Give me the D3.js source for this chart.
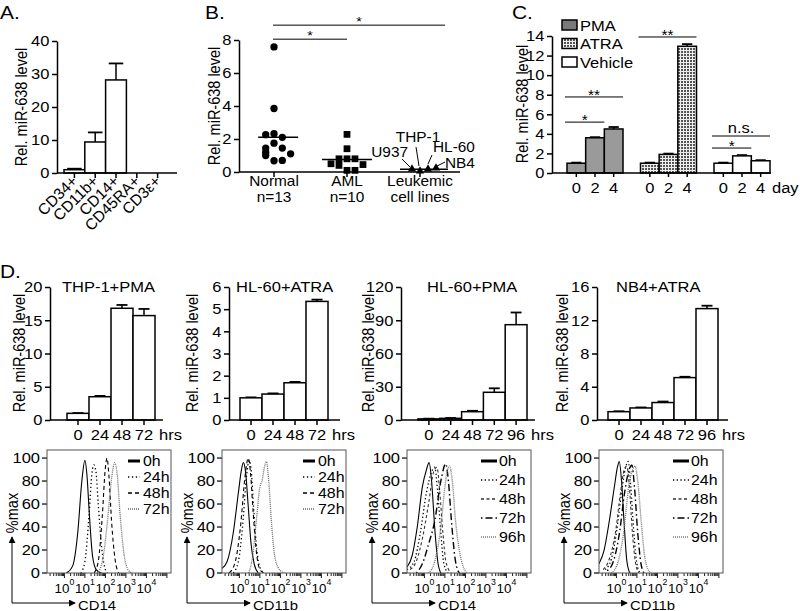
<!DOCTYPE html>
<html><head><meta charset="utf-8">
<script src="https://cdn.jsdelivr.net/npm/d3@7"></script>
<style>body{margin:0;background:#fff} text{font-family:"Liberation Sans",Arial,Helvetica,sans-serif;fill:#000}</style>
</head><body><svg id="fig" width="800" height="611"></svg>
<script>
// ================= DATA =================
// Panel A
const aCategories = ["CD34+","CD11b+","CD14+","CD45RA+","CD3ε+"];
const aValues = [1.0, 9.4, 28.2, 0, 0];
const aErrors = [0.3, 2.9, 5.0, 0, 0];
const aTicks = [0,10,20,30,40];

// Panel B
const bCategories = ["Normal","AML","Leukemic"];
const bLabelLine1 = ["Normal","AML","Leukemic"];
const bLabelLine2 = ["n=13","n=10","cell lines"];
const normalValues = [7.58,3.85,2.26,2.32,2.1,1.75,1.45,1.45,1.2,1.0,1.1,0.68,0.7];
const normalSlots  = [0,0,-1,0,1,0,-1,1,-1,-1,2,0,1];
const amlValues = [2.28,1.41,0.8,0.8,0.8,0.5,0.45,0.4,0.1,0.1];
const amlSlots  = [0,0,-1,0,1,-2,2,-1,0,1];
const cellLineNames  = ["U937","THP-1","HL-60","NB4"];
const cellLineValues = [0.18,0.06,0.18,0.24];
const cellLineSlots  = [-1,0,1,2];
const bTicks = [0,2,4,6,8];
const bSignifFrom = ["Normal","Normal"];
const bSignifTo = ["Leukemic","AML"];
const bSignifLevel = [8.9,8.05];
const bSignifLabel = ["*","*"];

// Panel C
const cGroups = ["PMA","ATRA","Vehicle"];
const cDays = ["0","2","4"];
const pmaValues = [1.0,3.6,4.5];      const pmaErrors = [0.06,0.06,0.2];
const atraValues = [1.0,1.9,12.95];   const atraErrors = [0.06,0.08,0.22];
const vehicleValues = [1.0,1.75,1.25];const vehicleErrors = [0.06,0.08,0.06];
const cTicks = [0,2,4,6,8,10,12,14];
const cSignifGroup = ["PMA","PMA","ATRA","Vehicle","Vehicle"];
const cSignifFrom = [0,0,0,0,0];
const cSignifTo = [2,1,2,2,1];
const cSignifLevel = [7.77,5.2,13.9,3.78,2.55];
const cSignifLabel = ["**","*","**","n.s.","*"];

// Panel D bar charts
const dTitles = ["THP-1+PMA","HL-60+ATRA","HL-60+PMA","NB4+ATRA"];
const hours4 = ["0","24","48","72"];
const hours5 = ["0","24","48","72","96"];
const thp1PmaValues = [1.0,3.5,16.8,15.7];   const thp1PmaErrors = [0.05,0.12,0.5,1.0];   const thp1PmaTicks = [0,5,10,15,20];
const hl60AtraValues = [1.0,1.17,1.68,5.35]; const hl60AtraErrors = [0.02,0.03,0.04,0.08]; const hl60AtraTicks = [0,1,2,3,4,5,6];
const hl60PmaValues = [1.0,1.5,7.5,25,86];   const hl60PmaErrors = [0.2,0.3,0.8,3.6,11];  const hl60PmaTicks = [0,30,60,90,120];
const nb4AtraValues = [1.0,1.45,2.1,5.1,13.4]; const nb4AtraErrors = [0.05,0.06,0.12,0.1,0.35]; const nb4AtraTicks = [0,4,8,12,16];

// Panel D flow histograms (log10 intensity, %max)
const hMarkers = ["CD14","CD11b","CD14","CD11b"];
const hTicksY = [0,20,40,60,80,100];
const hDecades = [0,1,2,3,4];
const legend4 = ["0h","24h","48h","72h"];
const legend5 = ["0h","24h","48h","72h","96h"];
const h1_0h  = [[0.1,0],[0.4,6],[0.65,35],[0.85,80],[1.0,98],[1.1,85],[1.22,50],[1.37,15],[1.55,3],[1.8,0]];
const h1_24h = [[0.8,0],[1.0,10],[1.2,50],[1.35,88],[1.44,94],[1.54,88],[1.65,60],[1.8,25],[1.95,6],[2.1,0]];
const h1_48h = [[1.45,0],[1.65,10],[1.85,50],[1.99,90],[2.08,100],[2.17,85],[2.3,45],[2.47,12],[2.65,0]];
const h1_72h = [[1.6,0],[1.85,10],[2.1,45],[2.32,85],[2.45,96],[2.58,85],[2.72,50],[2.92,15],[3.1,3],[3.3,0]];
const h2_0h  = [[-0.85,4],[-0.6,10],[-0.3,35],[-0.05,70],[0.1,90],[0.19,96],[0.3,88],[0.43,58],[0.57,25],[0.72,8],[0.92,0]];
const h2_24h = [[-0.3,0],[-0.05,10],[0.15,40],[0.35,85],[0.48,98],[0.58,88],[0.7,55],[0.85,20],[1.0,5],[1.2,0]];
const h2_48h = [[-0.5,0],[-0.2,10],[0.05,40],[0.28,85],[0.43,100],[0.55,85],[0.68,50],[0.85,15],[1.0,3],[1.2,0]];
const h2_72h = [[0.45,0],[0.65,15],[0.85,50],[1.0,75],[1.1,80],[1.22,92],[1.32,97],[1.43,80],[1.56,45],[1.75,12],[2.0,2],[2.2,0]];
const h3_0h  = [[-0.85,5],[-0.6,15],[-0.35,40],[-0.1,75],[0.1,90],[0.23,96],[0.35,80],[0.5,40],[0.65,10],[0.8,0]];
const h3_24h = [[-0.85,3],[-0.5,10],[-0.2,35],[0.1,70],[0.35,88],[0.5,92],[0.65,70],[0.8,35],[0.95,8],[1.15,0]];
const h3_48h = [[-0.7,3],[-0.4,10],[-0.1,30],[0.2,60],[0.45,88],[0.61,92],[0.75,70],[0.9,35],[1.05,10],[1.3,0]];
const h3_72h = [[-0.4,0],[-0.1,8],[0.2,25],[0.5,45],[0.8,80],[1.04,95],[1.17,80],[1.32,45],[1.5,12],[1.7,0]];
const h3_96h = [[0.2,0],[0.5,10],[0.8,40],[1.0,75],[1.13,90],[1.23,93],[1.36,80],[1.52,45],[1.7,20],[1.9,5],[2.1,0]];
const h4_0h  = [[-0.85,8],[-0.6,20],[-0.35,45],[-0.1,75],[0.05,92],[0.14,97],[0.25,80],[0.37,45],[0.5,12],[0.65,0]];
const h4_24h = [[-0.55,3],[-0.25,12],[0.0,35],[0.25,70],[0.45,92],[0.58,97],[0.7,75],[0.85,35],[1.0,8],[1.15,0]];
const h4_48h = [[-0.65,3],[-0.35,12],[-0.05,35],[0.2,70],[0.38,90],[0.5,93],[0.63,75],[0.78,35],[0.94,8],[1.1,0]];
const h4_72h = [[-0.45,2],[-0.15,10],[0.15,35],[0.4,70],[0.62,90],[0.75,94],[0.88,75],[1.04,35],[1.2,8],[1.35,0]];
const h4_96h = [[-0.25,0],[0.05,8],[0.35,35],[0.6,75],[0.79,90],[0.91,93],[1.04,80],[1.21,45],[1.4,12],[1.65,0]];

// ================= DRAWING =================
const SX = 1.1; // horizontal stretch of lettering seen in the reference
const svg = d3.select("#fig");
const defs = svg.append("defs");
const pat = defs.append("pattern").attr("id","check").attr("width",3).attr("height",3).attr("patternUnits","userSpaceOnUse");
pat.append("rect").attr("width",3).attr("height",3).attr("fill","#eee");
pat.append("rect").attr("width",2).attr("height",2).attr("fill","#555");
defs.append("marker").attr("id","arr").attr("viewBox","0 0 8 8").attr("refX",7).attr("refY",4)
  .attr("markerWidth",7).attr("markerHeight",7).attr("markerUnits","userSpaceOnUse").attr("orient","auto")
  .append("path").attr("d","M0,0L8,4L0,8z").attr("fill","#000");

function label(x,y,txt,fs,anchor,sx){
  return svg.append("text").attr("transform",`translate(${x},${y}) scale(${sx||SX},1)`)
    .attr("font-size",fs).attr("text-anchor",anchor||"start").text(txt);
}
function yTitle(x,yc,txt){
  svg.append("text").attr("transform",`translate(${x},${yc}) rotate(-90) scale(1,${SX})`).attr("text-anchor","middle")
    .attr("dominant-baseline","central").attr("font-size",14.5).text(txt);
}
function yAxis(scale,ticks,x,fs){
  const g = svg.append("g").attr("transform",`translate(${x},0)`)
    .call(d3.axisLeft(scale).tickValues(ticks).tickFormat(d3.format("d")).tickSize(5).tickSizeOuter(0).tickPadding(2));
  g.attr("font-family",null).attr("font-size",fs||15);
  g.selectAll("line,path").attr("stroke","#000").attr("stroke-width",1.5);
  g.selectAll("text").attr("fill","#000").attr("transform",`scale(${SX},1)`);
  return g;
}
function hLine(x1,x2,y,w){ svg.append("line").attr("x1",x1).attr("x2",x2).attr("y1",y).attr("y2",y).attr("stroke","#000").attr("stroke-width",w||1.5); }
function errBar(cx,yTop,yErr,cap){
  svg.append("line").attr("x1",cx).attr("x2",cx).attr("y1",yTop).attr("y2",yErr).attr("stroke","#000").attr("stroke-width",1.5);
  hLine(cx-cap/2,cx+cap/2,yErr,1.8);
}
function bars(xs,y,cats,values,errors,fill,capFrac){
  cats.forEach((c,i)=>{
    const v=values[i]; if(v<=0) return;
    const x0=xs(c), bw=xs.bandwidth();
    errBar(x0+bw/2,y(v),y(v+errors[i]),bw*capFrac);
    svg.append("rect").attr("x",x0).attr("y",y(v)).attr("width",bw).attr("height",y(0)-y(v))
      .attr("fill",fill).attr("stroke","#000").attr("stroke-width",1.5);
  });
}

// ---------- Panel A ----------
label(0,19,"A.",19);
const aY = d3.scaleLinear().domain([0,40]).range([173,41]);
const aX = d3.scaleBand().domain(aCategories).range([64,168]).padding(0);
yAxis(aY,aTicks,57);
yTitle(21,107,"Rel. miR-638 level");
bars(aX,aY,aCategories,aValues,aErrors,"#fff",0.7);
hLine(57,177,aY(0));
aCategories.forEach(c=>{
  const cx=aX(c)+aX.bandwidth()/2;
  svg.append("line").attr("x1",cx).attr("x2",cx).attr("y1",aY(0)).attr("y2",aY(0)+5).attr("stroke","#000").attr("stroke-width",1.5);
  svg.append("text").attr("transform",`translate(${cx+4},${aY(0)+9}) rotate(-45)`).attr("text-anchor","end")
    .attr("font-size",15.5).text(c);
});

// ---------- Panel B ----------
label(205,19,"B.",19);
const bY = d3.scaleLinear().domain([0,8]).range([172,40]);
const bX = d3.scalePoint().domain(bCategories).range([274,420]);
yAxis(bY,bTicks,239);
yTitle(214,106,"Rel. miR-638 level");
hLine(239,460,bY(0));
bCategories.forEach((c,i)=>{
  const cx=bX(c);
  svg.append("line").attr("x1",cx).attr("x2",cx).attr("y1",bY(0)).attr("y2",bY(0)+5).attr("stroke","#000").attr("stroke-width",1.5);
  label(cx,186,bLabelLine1[i],14,"middle");
  label(cx,201.8,bLabelLine2[i],14,"middle");
});
const groupsB = [
  {cat:"Normal",vals:normalValues,slots:normalSlots,sym:d3.symbolCircle,size:42,sp:8.3,half:20},
  {cat:"AML",vals:amlValues,slots:amlSlots,sym:d3.symbolSquare,size:46,sp:8,half:25},
  {cat:"Leukemic",vals:cellLineValues,slots:cellLineSlots,sym:d3.symbolTriangle,size:30,sp:8,half:24}
];
groupsB.forEach(gp=>{
  const cx=bX(gp.cat);
  gp.vals.forEach((v,i)=>{
    svg.append("path").attr("d",d3.symbol(gp.sym,gp.size)()).attr("transform",`translate(${cx+gp.slots[i]*gp.sp},${bY(v)})`).attr("fill","#000");
  });
  const mc = cx + (d3.min(gp.slots)+d3.max(gp.slots))/2*gp.sp;
  hLine(mc-gp.half,mc+gp.half,bY(d3.mean(gp.vals)),1.5);
});
const annot = [
  {dx:-4,dy:-12,anchor:"end",l:[-10,-10,-2,-2]},
  {dx:-2,dy:-29,anchor:"middle",l:[-4,-24,-1,-5]},
  {dx:5,dy:-17,anchor:"start",l:[4,-14,0,-5]},
  {dx:9,dy:0,anchor:"start",l:[9,-6,1,-2]}
];
cellLineNames.forEach((n,i)=>{
  const px=bX("Leukemic")+cellLineSlots[i]*8, py=bY(cellLineValues[i]);
  const a=annot[i];
  label(px+a.dx,py+a.dy,n,14,a.anchor);
  svg.append("line").attr("x1",px+a.l[0]).attr("y1",py+a.l[1]).attr("x2",px+a.l[2]).attr("y2",py+a.l[3]).attr("stroke","#000").attr("stroke-width",1);
});
bSignifFrom.forEach((f,i)=>{
  const x1=bX(f)-1, x2=bSignifTo[i]==="Leukemic"?bX(bSignifTo[i])+25:bX(bSignifTo[i]);
  const yy=bY(bSignifLevel[i]);
  hLine(x1,x2,yy,1);
  label((x1+x2)/2,yy+1,bSignifLabel[i],13,"middle");
});

// ---------- Panel C ----------
label(512,19,"C.",19);
const cY = d3.scaleLinear().domain([0,14]).range([173,36]);
const cX = d3.scaleBand().domain(cGroups).range([567,770]).paddingInner(0.238).paddingOuter(0);
const cXi = d3.scaleBand().domain(cDays).range([0,cX.bandwidth()]).padding(0);
yAxis(cY,cTicks,552);
yTitle(522,104,"Rel. miR-638 level");
const cVals=[pmaValues,atraValues,vehicleValues], cErrs=[pmaErrors,atraErrors,vehicleErrors];
const cFills=["#9a9a9a","url(#check)","#fff"];
cGroups.forEach((g,gi)=>{
  const xs = d3.scaleBand().domain(cDays).range([cX(g),cX(g)+cX.bandwidth()]).padding(0);
  bars(xs,cY,cDays,cVals[gi],cErrs[gi],cFills[gi],0.55);
  cDays.forEach(d=>{
    const cx=xs(d)+xs.bandwidth()/2;
    svg.append("line").attr("x1",cx).attr("x2",cx).attr("y1",cY(0)).attr("y2",cY(0)+4).attr("stroke","#000").attr("stroke-width",1.5);
    label(cx,193,d,15,"middle");
  });
});
hLine(552,771,cY(0));
label(772,193,"day",15);
cSignifGroup.forEach((g,i)=>{
  const x1=cX(g)-2+cXi(cDays[cSignifFrom[i]]), x2=cX(g)+cXi(cDays[cSignifTo[i]])+cXi.bandwidth();
  const yy=cY(cSignifLevel[i]);
  hLine(x1,x2,yy,1);
  if(cSignifLabel[i]==="n.s.") label((x1+x2)/2,yy-3,cSignifLabel[i],15,"middle");
  else label((x1+x2)/2,yy+3,cSignifLabel[i],14,"middle");
});
cGroups.forEach((g,i)=>{
  const ly=20+i*18.5;
  svg.append("rect").attr("x",562).attr("y",ly).attr("width",15).attr("height",10)
    .attr("fill",i===0?"#7a7a7a":cFills[i]).attr("stroke","#000").attr("stroke-width",1.5);
  label(580,ly+10.5,g,15);
});

// ---------- Panel D bar charts ----------
label(0,278,"D.",19);
const dLayout = [
  {axisX:50,barL:67,barR:155,axisEnd:163,ylabX:19,cats:hours4,vals:thp1PmaValues,errs:thp1PmaErrors,ticks:thp1PmaTicks,tx:62},
  {axisX:229,barL:240,barR:328,axisEnd:340,ylabX:192,cats:hours4,vals:hl60AtraValues,errs:hl60AtraErrors,ticks:hl60AtraTicks,tx:236},
  {axisX:401,barL:418,barR:527,axisEnd:535,ylabX:368,cats:hours5,vals:hl60PmaValues,errs:hl60PmaErrors,ticks:hl60PmaTicks,tx:427},
  {axisX:597,barL:608,barR:718,axisEnd:728,ylabX:562,cats:hours5,vals:nb4AtraValues,errs:nb4AtraErrors,ticks:nb4AtraTicks,tx:616}
];
dLayout.forEach((L,k)=>{
  const y = d3.scaleLinear().domain([0,d3.max(L.ticks)]).range([420,287]);
  const x = d3.scaleBand().domain(L.cats).range([L.barL,L.barR]).padding(0);
  yAxis(y,L.ticks,L.axisX);
  yTitle(L.ylabX,353,"Rel. miR-638 level");
  label(L.tx,292,dTitles[k],15);
  bars(x,y,L.cats,L.vals,L.errs,"#fff",0.5);
  hLine(L.axisX,L.axisEnd,y(0));
  L.cats.forEach(c=>{
    const cx=x(c)+x.bandwidth()/2;
    svg.append("line").attr("x1",cx).attr("x2",cx).attr("y1",y(0)).attr("y2",y(0)+5).attr("stroke","#000").attr("stroke-width",1.5);
    label(cx,440,c,15,"middle");
  });
  label(x(L.cats[L.cats.length-1])+x.bandwidth()/2+15,440,"hrs",15);
});

// ---------- Panel D histograms ----------
const hCurves = [[h1_0h,h1_24h,h1_48h,h1_72h],[h2_0h,h2_24h,h2_48h,h2_72h],[h3_0h,h3_24h,h3_48h,h3_72h,h3_96h],[h4_0h,h4_24h,h4_48h,h4_72h,h4_96h]];
const hLegends = [legend4,legend4,legend5,legend5];
const style4 = [{d:null,c:"#000",w:1.1},{d:"1.3,2.6",c:"#000",w:1.3},{d:"4,3",c:"#000",w:1.1},{d:"1,1",c:"#6a6a6a",w:1.3}];
const style5 = [{d:null,c:"#000",w:1.1},{d:"1.3,2.4",c:"#000",w:1.3},{d:"3,2.5",c:"#333",w:1.1},{d:"1.5,3,7,3",c:"#000",w:1.4},{d:"1,1",c:"#777",w:1.4}];
const hLefts = [47,222,407,599];
hLefts.forEach((left,k)=>{
  const W=124, top=450, bot=573;
  const x = d3.scaleLog().domain([Math.pow(10,-0.85),Math.pow(10,5.2)]).range([left,left+W]);
  const y = d3.scaleLinear().domain([0,107]).range([bot,top]);
  const clipId="clip"+k;
  defs.append("clipPath").attr("id",clipId).append("rect").attr("x",left).attr("y",top).attr("width",W).attr("height",bot-top);
  hTicksY.forEach(t=>{
    svg.append("line").attr("x1",left-5).attr("x2",left).attr("y1",y(t)).attr("y2",y(t)).attr("stroke","#000").attr("stroke-width",1.2);
    svg.append("text").attr("transform",`translate(${left-7},${y(t)}) scale(${SX},1)`).attr("dy","0.35em")
      .attr("text-anchor","end").attr("font-size",15).text(t);
  });
  for(let e=-1;e<=5;e++){
    for(let m=1;m<=9;m++){
      const v=m*Math.pow(10,e);
      if(v<x.domain()[0]||v>x.domain()[1]) continue;
      const major=(m===1);
      svg.append("line").attr("x1",x(v)).attr("x2",x(v)).attr("y1",bot).attr("y2",bot+(major?5:3)).attr("stroke","#000").attr("stroke-width",0.9);
    }
  }
  hDecades.forEach(e=>{
    const t=svg.append("text").attr("transform",`translate(${x(Math.pow(10,e))},593) scale(1.03,1)`).attr("text-anchor","middle").attr("font-size",13);
    t.append("tspan").text("10");
    t.append("tspan").attr("dy",-8).attr("font-size",8.5).text(e);
  });
  const styles = hCurves[k].length===4?style4:style5;
  const line = d3.line().x(d=>x(Math.pow(10,d[0]))).y(d=>y(d[1])).curve(d3.curveMonotoneX);
  hCurves[k].forEach((c,i)=>{
    svg.append("path").attr("d",line(c)).attr("clip-path",`url(#${clipId})`).attr("fill","none")
      .attr("stroke",styles[i].c).attr("stroke-width",styles[i].w).attr("stroke-dasharray",styles[i].d);
  });
  svg.append("rect").attr("x",left).attr("y",top).attr("width",W).attr("height",bot-top).attr("fill","none").attr("stroke","#555").attr("stroke-width",1);
  const five = hLegends[k].length===5;
  const lx1 = left+(five?74:81), lx2 = left+(five?90:93), tx = left+(five?92:96), dy = five?19:16;
  hLegends[k].forEach((n,i)=>{
    const ly=461+i*dy;
    svg.append("line").attr("x1",lx1).attr("x2",lx2).attr("y1",ly).attr("y2",ly).attr("stroke",styles[i].c)
      .attr("stroke-width",i===0?3:1.6).attr("stroke-dasharray",styles[i].d);
    svg.append("text").attr("transform",`translate(${tx},${ly}) scale(${SX},1)`).attr("dy","0.35em").attr("font-size",14.5).text(n);
  });
  const ax=left-35;
  svg.append("line").attr("x1",ax).attr("y1",603).attr("x2",ax).attr("y2",537).attr("stroke","#000").attr("stroke-width",1).attr("marker-end","url(#arr)");
  svg.append("line").attr("x1",ax).attr("y1",603).attr("x2",left+28).attr("y2",603).attr("stroke","#000").attr("stroke-width",1).attr("marker-end","url(#arr)");
  yTitle(ax,513,"%max");
  label(left+31,609.5,hMarkers[k],13.5);
});
</script></body></html>
